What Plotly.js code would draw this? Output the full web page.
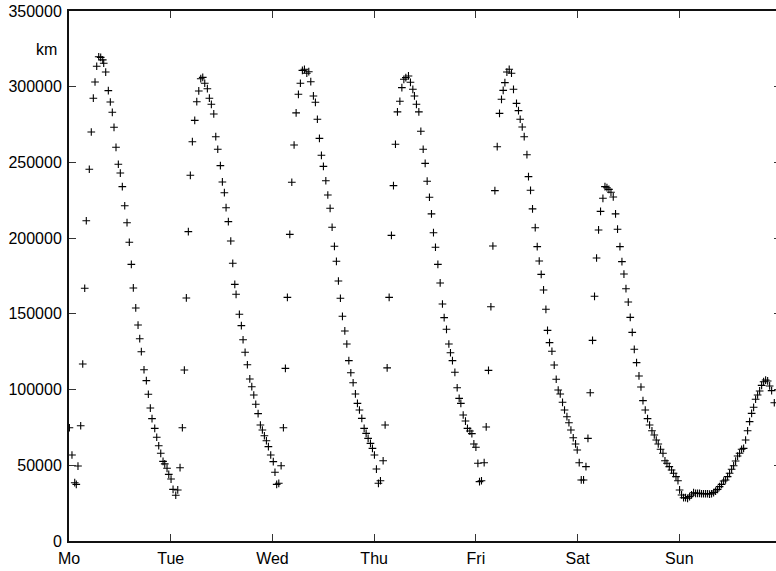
<!DOCTYPE html>
<html>
<head>
<meta charset="utf-8">
<script src="https://cdn.plot.ly/plotly-3.0.1.min.js"></script>
<style>
html,body{margin:0;padding:0;overflow:hidden;background:#fff;}
#chart{width:782px;height:571px;}
</style>
</head>
<body>
<div id="chart"></div>
<script>
// time in hours since Monday 00:00
const hours = [
0.1,0.7,1.35,1.72,2.12,2.76,3.24,3.71,4.08,4.79,5.26,5.74,6.14,6.54,7.01,7.48,7.96,8.19,8.66,9.28,
9.75,10.22,10.62,11.09,11.64,12.11,12.58,13.15,13.69,14.23,14.71,15.18,15.75,16.29,16.69,17.07,17.70,18.25,18.72,19.19,
19.59,20.23,20.70,21.17,21.65,22.19,22.59,23.13,23.54,24.08,24.55,25.19,25.66,
26.20,26.75,27.22,27.69,28.16,28.63,29.11,29.67,30.15,30.62,31.09,31.56,32.03,32.65,33.12,33.59,34.16,34.63,35.10,35.72,
36.19,36.66,37.06,37.60,38.17,38.64,39.12,39.42,40.20,40.67,41.07,41.55,42.09,42.66,43.13,43.60,44.07,44.62,45.16,45.63,
46.10,46.58,47.05,47.6,48.2,48.6,49.0,49.5,
50.05,50.59,51.06,51.53,52.10,52.57,53.11,53.59,54.13,54.60,55.07,55.55,56.11,56.58,57.05,57.67,58.14,58.61,59.09,59.56,
60.03,60.60,61.07,61.61,62.08,62.63,63.10,63.57,64.04,64.52,65.08,65.55,66.03,66.50,67.04,67.58,68.06,68.53,69.09,69.64,
70.11,70.58,71.13,71.60,72.07,72.54,73.01,73.49,
74.12,74.59,75.07,75.54,76.08,76.56,77.03,77.50,78.07,78.54,79.01,79.48,80.10,80.57,81.13,81.51,81.98,82.55,83.02,83.57,
84.04,84.51,85.05,85.53,86.00,86.47,87.04,87.58,88.12,88.52,89.07,89.63,90.01,90.48,91.05,91.59,92.06,92.46,93.01,93.55,
94.02,94.59,95.06,95.53,96.01,96.48,96.86,97.33,
97.96,98.44,98.98,99.55,100.02,100.49,101.04,101.58,102.05,102.45,102.85,103.32,103.87,104.41,104.88,105.59,106.06,106.46,106.94,107.41,
108.05,108.42,108.90,109.37,110.01,110.48,110.95,111.42,111.97,112.53,112.91,113.38,113.95,114.49,114.96,115.43,115.91,116.45,116.92,117.49,
117.96,118.43,118.98,119.52,119.92,120.39,120.87,121.41,
121.98,122.45,122.99,123.53,124.00,124.48,124.95,125.42,125.98,126.46,126.93,127.40,127.88,128.42,128.96,129.43,130.00,130.47,130.94,131.42,
131.96,132.43,132.90,133.38,133.92,134.49,134.96,135.43,135.97,136.51,136.99,137.55,138.10,138.57,139.04,139.58,140.15,140.62,141.09,141.64,
142.18,142.65,143.22,143.69,144.07,144.54,145.01,145.48,145.96,146.43,146.90,147.37,147.85,148.32,148.79,149.26,149.73,150.21,150.68,151.15,
151.62,152.10,152.57,153.04,153.51,153.98,154.46,154.93,155.40,155.87,156.35,156.82,157.29,157.76,158.23,158.71,159.18,159.65,160.12,160.59,
161.07,161.54,162.01,162.48,162.96,163.43,163.90,164.37,164.85,165.32,165.79,166.42
];
// distance in km
const km = [
74800,56800,38500,37400,49500,76100,116900,166900,211500,245500,270100,292400,303100,313500,319800,319400,317700,315500,309700,297400,
289900,283100,273200,260000,248800,243000,234000,221400,210200,197300,182700,167100,153900,142600,133600,125000,113100,105900,96900,87800,
80800,74400,68500,62900,57900,52600,50900,48000,44000,40900,34100,30200,33700,
48400,74800,112900,160500,204300,241500,263700,277800,290100,297200,305300,306200,302300,298700,292400,288400,282000,267000,258700,247900,
237100,230000,220100,210900,198100,183400,169500,162900,149700,142200,132900,124600,116400,107000,101900,96400,90300,84100,76600,73300,
69500,66200,62300,56800,52400,45400,37400,38100,
49700,74800,114000,160900,202500,236900,261500,282700,295000,302300,310800,311500,308900,309900,303300,293900,289700,278500,265900,254700,
247400,237900,228500,219700,207200,194600,184700,171700,160300,148400,138700,130100,119100,111100,104500,97100,90900,86500,81000,74400,
71100,67800,64500,61200,56800,47500,38100,39800,
53000,76600,114300,160900,201800,234700,262000,283400,290400,299400,304900,306000,307100,302900,298300,293900,288400,283400,270600,258700,
249400,237600,227000,216000,203600,194000,182700,170400,156500,147500,139800,130100,124300,119100,111400,101200,94200,90900,83200,79200,
74400,72600,70900,64100,61900,51300,39200,39800,
51700,75300,112700,154700,194800,231400,260400,282400,291700,297600,302700,309700,311500,308900,298300,289000,284200,278500,273400,267000,
255100,240600,231600,219300,206900,194400,184900,176100,165800,153000,139100,131000,125300,116200,106800,99700,97100,91600,86500,82100,
78100,73300,68200,64100,60100,51700,40300,40300,
49100,67800,97900,132500,161600,186900,205400,217700,226300,234000,233300,232200,230300,227200,216000,205900,194400,184500,176300,166600,
157800,147700,137800,126600,117800,109000,101700,92700,86500,80800,76600,72800,70000,66700,64100,60600,57900,53000,51300,49100,
46900,44700,42500,39800,33700,30400,28600,28600,28200,29300,30400,31900,31500,31500,31500,31200,31200,31200,31200,31000,
31200,32000,33000,34100,35900,37400,39600,40300,42500,44700,47400,49700,52800,56100,57900,60600,61200,66700,72800,78800,
84300,88300,93600,96400,99100,102800,105200,106300,105700,102400,99300,91300
];
const dayTicks = [0,24,48,72,96,120,144,168];
const dayLabels = ['Mo','Tue','Wed','Thu','Fri','Sat','Sun',''];
const yTicks = [0,50000,100000,150000,200000,250000,300000,350000];
const unitLabel = 'km';

const trace = {
  x: hours, y: km, type: 'scatter', mode: 'markers',
  marker: {symbol: 'cross-thin', size: 5.5, color: '#000', line: {color: '#000', width: 1.1}},
  hoverinfo: 'x+y'
};
const axisCommon = {
  showgrid: false, zeroline: false, showline: true, mirror: 'ticks',
  linecolor: '#111', linewidth: 2, ticks: 'inside', ticklen: 7, tickwidth: 1, tickcolor: '#333',
  tickfont: {family: 'Liberation Sans, Arial, sans-serif', size: 16, color: '#000'}
};
const layout = {
  width: 782, height: 571,
  margin: {l: 69, r: 1, t: 11, b: 30},
  paper_bgcolor: '#fff', plot_bgcolor: '#fff',
  showlegend: false,
  font: {family: 'Liberation Sans, Arial, sans-serif', size: 16, color: '#000'},
  xaxis: Object.assign({}, axisCommon, {range: [0, 168], tickmode: 'array', tickvals: dayTicks, ticktext: dayLabels, ticklabelstandoff: 2}),
  yaxis: Object.assign({}, axisCommon, {range: [0, 350000], tickmode: 'array', tickvals: yTicks, tickformat: 'd', ticklabelstandoff: 2}),
  annotations: [{text: unitLabel, xref: 'paper', yref: 'paper', x: -0.032, y: 0.928,
    xanchor: 'center', yanchor: 'middle', showarrow: false,
    font: {family: 'Liberation Sans, Arial, sans-serif', size: 16, color: '#000'}}]
};
Plotly.newPlot('chart', [trace], layout, {displayModeBar: false, staticPlot: true});
</script>
</body>
</html>
